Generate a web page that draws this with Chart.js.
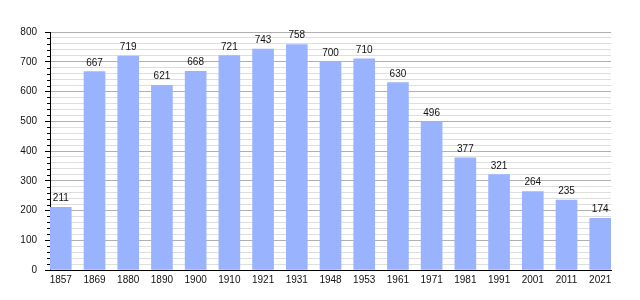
<!DOCTYPE html>
<html>
<head>
<meta charset="utf-8">
<script src="https://cdn.jsdelivr.net/npm/chart.js@4"></script>
<style>
  html, body { margin: 0; padding: 0; background: #fff; }
  #wrap { width: 640px; height: 300px; }
</style>
</head>
<body>
<div id="wrap"><canvas id="pop"></canvas></div>
<script>
const years = ['1857', '1869', '1880', '1890', '1900', '1910', '1921', '1931', '1948', '1953', '1961', '1971', '1981', '1991', '2001', '2011', '2021'];
const population = [211, 667, 719, 621, 668, 721, 743, 758, 700, 710, 630, 496, 377, 321, 264, 235, 174];
const yTicks = [0, 100, 200, 300, 400, 500, 600, 700, 800];

const FONT = '"Liberation Sans", Arial, sans-serif';

// draws the value above each bar and the short minor ticks on the y axis
const extras = {
    id: 'extras',
    afterDatasetsDraw(chart) {
        const ctx = chart.ctx;
        const meta = chart.getDatasetMeta(0);
        ctx.save();
        ctx.font = '10px ' + FONT;
        ctx.fillStyle = '#111';
        ctx.textAlign = 'center';
        ctx.textBaseline = 'alphabetic';
        meta.data.forEach(function(bar, i) {
            ctx.fillText(String(population[i]), bar.x, bar.y - 6);
        });
        const y = chart.scales.y;
        ctx.strokeStyle = '#000';
        ctx.lineWidth = 1;
        for (let v = 0; v <= 800; v += 20) {
            if (v % 100 === 0) continue;
            const py = Math.round(y.getPixelForValue(v)) + 0.5;
            ctx.beginPath();
            ctx.moveTo(y.right - 3, py);
            ctx.lineTo(y.right, py);
            ctx.stroke();
        }
        ctx.restore();
    }
};

const chart = new Chart(document.getElementById('pop').getContext('2d'), {
    type: 'bar',
    data: {
        datasets: [{
            data: years.map(function(yr, i) { return { x: i, y: population[i] }; }),
            backgroundColor: 'rgb(153, 179, 255)',
            borderWidth: 0,
            barThickness: 21
        }]
    },
    options: {
        responsive: true,
        maintainAspectRatio: false,
        animation: false,
        layout: { padding: { left: 0, right: 29, top: 32, bottom: 0 } },
        plugins: { legend: { display: false }, tooltip: { enabled: false } },
        scales: {
            x: {
                type: 'linear',
                offset: false,
                min: -0.32,
                max: 16.32,
                afterBuildTicks: function(scale) {
                    scale.ticks = years.map(function(_, i) { return { value: i }; });
                },
                afterFit: function(scale) { scale.height = 30; },
                grid: { display: false, drawTicks: false },
                border: { display: true, color: '#000', width: 1 },
                ticks: {
                    autoSkip: false,
                    maxRotation: 0,
                    padding: 4,
                    color: '#111',
                    font: { family: FONT, size: 10 },
                    callback: function(v) { return years[v]; }
                }
            },
            y: {
                min: 0,
                max: 800,
                afterBuildTicks: function(scale) {
                    const t = [];
                    for (let v = 0; v <= 800; v += 20) t.push({ value: v });
                    scale.ticks = t;
                },
                afterFit: function(scale) { scale.width = 50; },
                border: { display: true, color: '#000', width: 1 },
                grid: {
                    color: function(c) { return c.tick && c.tick.value % 100 === 0 ? '#b0b0b0' : '#dedede'; },
                    tickColor: function(c) { return c.tick && c.tick.value % 100 === 0 ? '#000' : 'rgba(0,0,0,0)'; },
                    tickLength: 5
                },
                ticks: {
                    autoSkip: false,
                    padding: 8,
                    color: '#111',
                    font: { family: FONT, size: 10 },
                    callback: function(v) { return yTicks.indexOf(v) >= 0 ? String(v) : ''; }
                }
            }
        }
    },
    plugins: [extras]
});
</script>
</body>
</html>
